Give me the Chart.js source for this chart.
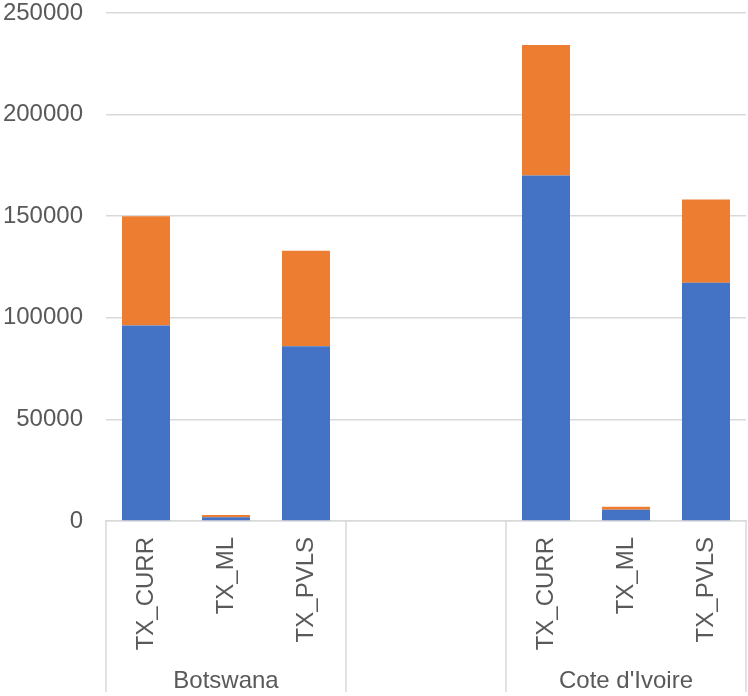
<!DOCTYPE html>
<html>
<head>
<meta charset="utf-8">
<script src="https://cdn.jsdelivr.net/npm/chart.js@4/dist/chart.umd.min.js"></script>
<style>
  html, body { margin: 0; padding: 0; background: #ffffff; }
  #wrap { width: 748px; height: 696px; }
</style>
</head>
<body>
<div id="wrap"><canvas id="chart" width="748" height="696"></canvas></div>
<script>
// Indicator per slot; the two blank slots form the unlabelled middle group
const categories = ['TX_CURR', 'TX_ML', 'TX_PVLS', '', '', 'TX_CURR', 'TX_ML', 'TX_PVLS'];
// Group names and how many slots each group spans
const groupNames = ['Botswana', '', "Cote d'Ivoire"];
const groupSizes = [3, 2, 3];
// Stacked series values
const series1Values = [96200, 1800, 86000, null, null, 170000, 5500, 117300];
const series2Values = [53800, 1200, 47000, null, null, 64300, 1500, 40900];
// Value axis ticks
const yTicks = [0, 50000, 100000, 150000, 200000, 250000];

// One label per slot for the outer (group) axis, placed at each group's middle slot
const groupAxisLabels = [];
groupSizes.forEach((size, g) => {
  for (let i = 0; i < size; i++) {
    groupAxisLabels.push(i === Math.floor(size / 2) && size % 2 === 1 ? groupNames[g] : '');
  }
});

const FONT = "'Liberation Sans', Arial, sans-serif";
const FONT_SIZE = 24;
const TEXT = '#595959';
const LINE = '#d9d9d9';

// Vertical separators between category groups, below the plot area
const groupSeparators = {
  id: 'groupSeparators',
  afterDraw(chart) {
    const x = chart.scales.x;
    const ctx = chart.ctx;
    const slot = (x.right - x.left) / categories.length;
    const bounds = [0];
    groupSizes.reduce((acc, s) => { bounds.push(acc + s); return acc + s; }, 0);
    ctx.save();
    ctx.strokeStyle = LINE;
    ctx.lineWidth = 1.5;
    bounds.forEach(b => {
      const xx = x.left + b * slot;
      ctx.beginPath();
      ctx.moveTo(xx, chart.chartArea.bottom);
      ctx.lineTo(xx, chart.height - 4);
      ctx.stroke();
    });
    ctx.restore();
  }
};

new Chart(document.getElementById('chart'), {
  type: 'bar',
  data: {
    labels: categories,
    datasets: [
      { data: series1Values, backgroundColor: '#4472C4', borderWidth: 0 },
      { data: series2Values, backgroundColor: '#ED7D31', borderWidth: 0 }
    ]
  },
  options: {
    responsive: false,
    animation: false,
    layout: { padding: { top: 13, right: 2, left: 0, bottom: 0 } },
    plugins: { legend: { display: false }, tooltip: { enabled: false } },
    datasets: { bar: { categoryPercentage: 0.6, barPercentage: 1.0 } },
    scales: {
      x: {
        stacked: true,
        weight: 0,
        grid: { display: false, drawTicks: false },
        border: { display: true, color: LINE, width: 1.5 },
        ticks: {
          autoSkip: false, minRotation: 90, maxRotation: 90,
          color: TEXT, font: { family: FONT, size: FONT_SIZE }, padding: 16
        },
        afterFit(scale) {
          scale.height = 140;
          scale.paddingLeft = 0; scale.paddingRight = 0;
          scale.paddingTop = 0; scale.paddingBottom = 0;
        }
      },
      xg: {
        type: 'category',
        position: 'bottom',
        labels: groupAxisLabels,
        weight: 1,
        offset: true,
        grid: { display: false, drawTicks: false },
        border: { display: false },
        ticks: {
          autoSkip: false, minRotation: 0, maxRotation: 0,
          color: TEXT, font: { family: FONT, size: FONT_SIZE }, padding: 6
        },
        afterFit(scale) {
          scale.height = 35;
          scale.paddingLeft = 0; scale.paddingRight = 0;
          scale.paddingTop = 0; scale.paddingBottom = 0;
        }
      },
      y: {
        stacked: true,
        min: 0, max: 250000,
        afterBuildTicks(scale) { scale.ticks = yTicks.map(v => ({ value: v })); },
        grid: { color: LINE, lineWidth: 1.5, drawTicks: false },
        border: { display: false },
        ticks: {
          color: TEXT, font: { family: FONT, size: FONT_SIZE }, padding: 23,
          callback: (v) => String(v)
        },
        afterFit(scale) {
          scale.width = 106;
          scale.paddingTop = 0; scale.paddingBottom = 0;
        }
      }
    }
  },
  plugins: [groupSeparators]
});
</script>
</body>
</html>
